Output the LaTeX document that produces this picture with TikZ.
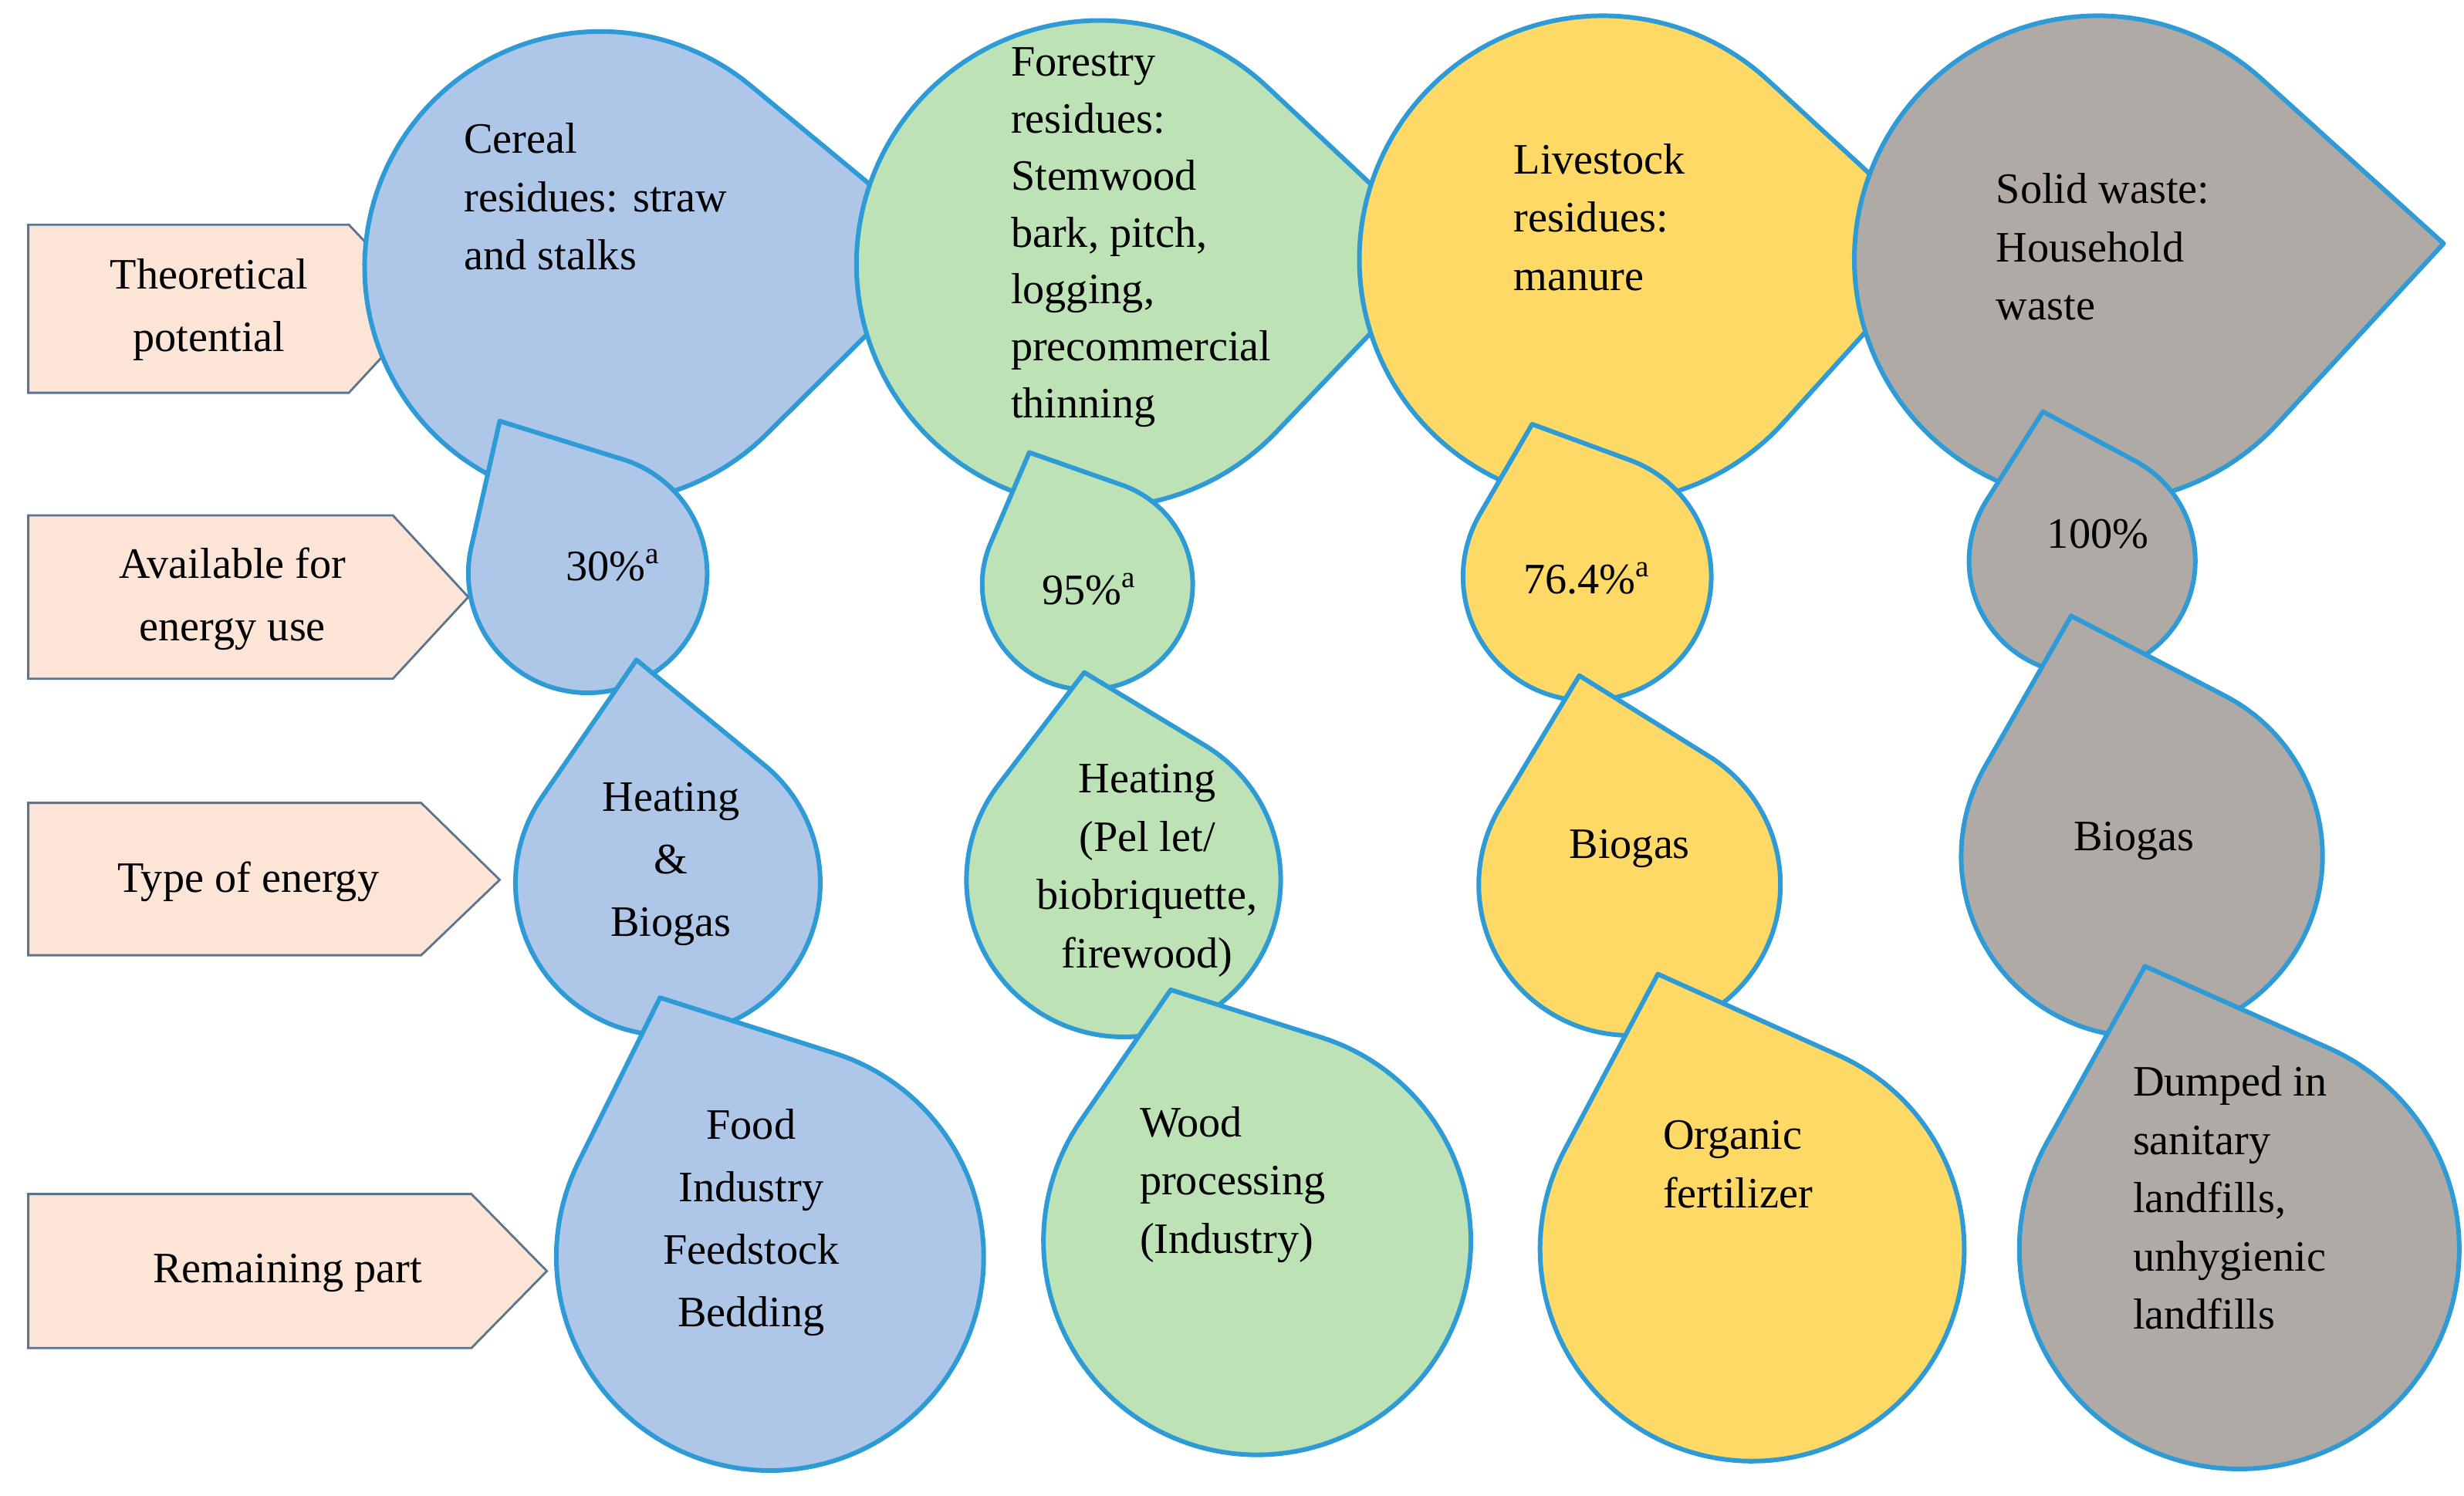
\documentclass[tikz,border=0pt]{standalone}
\usepackage{fontspec}
\setmainfont{Liberation Serif}
\definecolor{bluef}{HTML}{AEC7E8}
\definecolor{greenf}{HTML}{BCE2B6}
\definecolor{yellowf}{HTML}{FFD966}
\definecolor{grayf}{HTML}{B0AAA6}
\definecolor{edge}{HTML}{2E9BD6}
\definecolor{peach}{HTML}{FCE4D6}
\definecolor{slate}{HTML}{5B7490}
\newcommand\mydrop[6]{%
 \pgfmathsetmacro\dd{veclen(#5-#2,#6-#3)}%
 \pgfmathsetmacro\th{atan2(#6-#3,#5-#2)}%
 \pgfmathsetmacro\al{acos(#4/\dd)}%
 \pgfmathsetmacro\aa{\th+\al}%
 \pgfmathsetmacro\ab{\th+360-\al}%
 \draw[drop,fill=#1] (#5,#6) -- plot[domain=\aa:\ab,samples=120] ({#2+#4*cos(\x)},{#3+#4*sin(\x)}) -- cycle;}
\newcommand\myarrow[5]{% name, x1, x2(body end), tip, ytop, ybot via #5
 }
\begin{document}
\begin{tikzpicture}[x=0.02036cm,y=-0.02036cm,
 drop/.style={draw=edge,line width=1.7pt,line join=round},
 lab/.style={draw=slate,fill=peach,line width=0.8pt},
 txt/.style={font=\fontsize{16}{23}\selectfont,align=center,inner sep=0pt},
 ltxt/.style={font=\fontsize{16}{21.5}\selectfont,align=left,inner sep=0pt,anchor=north west}]
\path[use as bounding box] (0,0) rectangle (1568,952);
% left labels
\draw[lab] (18,143) -- (222,143) -- (272,196) -- (222,250) -- (18,250) -- cycle;
\node[txt] (l1) at (133,197) {Theoretical\\potential};
\draw[lab] (18,328) -- (250,328) -- (298,380) -- (250,432) -- (18,432) -- cycle;
\node[txt] (l2) at (148,381) {Available for\\energy use};
\draw[lab] (18,511) -- (268,511) -- (318,560) -- (268,608) -- (18,608) -- cycle;
\node[txt] (l3) at (158,561) {Type of energy};
\draw[lab] (18,760) -- (300,760) -- (348,809) -- (300,858) -- (18,858) -- cycle;
\node[txt] (l4) at (183,810) {Remaining part};
% row 1
\mydrop{bluef}{382}{170}{150}{605}{160}
\mydrop{greenf}{700}{168}{155}{920}{162}
\mydrop{yellowf}{1020}{165}{155}{1238}{155}
\mydrop{grayf}{1335}{165}{155}{1555}{155}
\node[ltxt] (t1) at (295,78) {Cereal\\residues: straw\\and stalks};
\node[ltxt,font=\fontsize{16}{21}\selectfont] (t2) at (643,30) {Forestry\\residues:\\Stemwood\\bark, pitch,\\logging,\\precommercial\\thinning};
\node[ltxt] (t3) at (963,91) {Livestock\\residues:\\manure};
\node[ltxt] (t4) at (1270,110) {Solid waste:\\Household\\waste};
% row 2
\mydrop{bluef}{374}{365}{76}{318}{268}
\mydrop{greenf}{692}{372}{67}{655}{288}
\mydrop{yellowf}{1010}{367}{79}{975}{270}
\mydrop{grayf}{1325}{357}{72}{1300}{262}
\node[txt] (p1) at (390,360) {30\%\textsuperscript{a}};
\node[txt] (p2) at (693,375) {95\%\textsuperscript{a}};
\node[txt] (p3) at (1010,368) {76.4\%\textsuperscript{a}};
\node[txt] (p4) at (1335,340) {100\%};
% row 3
\mydrop{bluef}{425}{562}{97}{405}{420}
\mydrop{greenf}{715}{560}{100}{690}{428}
\mydrop{yellowf}{1037}{563}{96}{1005}{430}
\mydrop{grayf}{1363}{545}{115}{1318}{392}
\node[txt] (e1) at (427,550) {Heating\\\&\\Biogas};
\node[txt,font=\fontsize{16}{21.5}\selectfont] (e2) at (730,554) {Heating\\(Pel let/\\biobriquette,\\firewood)};
\node[txt] (e3) at (1037,540) {Biogas};
\node[txt] (e4) at (1358,535) {Biogas};
% row 4
\mydrop{bluef}{490}{800}{136}{420}{635}
\mydrop{greenf}{800}{790}{136}{745}{630}
\mydrop{yellowf}{1115}{795}{135}{1055}{620}
\mydrop{grayf}{1425}{795}{140}{1365}{615}
\node[txt] (r1) at (478,778) {Food\\Industry\\Feedstock\\Bedding};
\node[ltxt] (r2) at (725,704) {Wood\\processing\\(Industry)};
\node[ltxt] (r3) at (1058,713) {Organic\\fertilizer};
\node[ltxt] (r4) at (1357,678) {Dumped in\\sanitary\\landfills,\\unhygienic\\landfills};
\end{tikzpicture}
\end{document}
